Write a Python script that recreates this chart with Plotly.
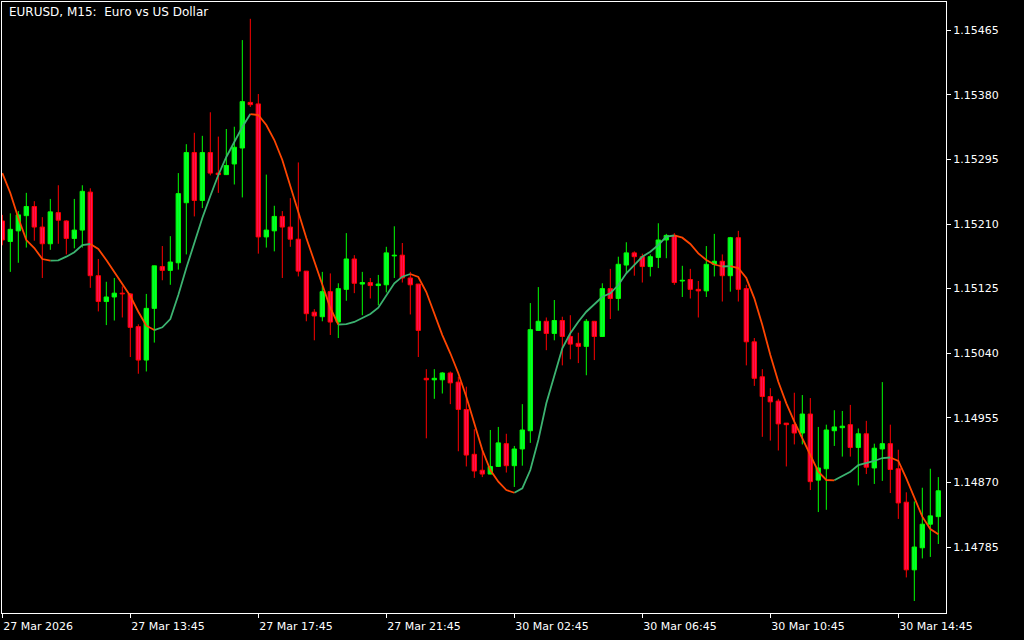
import plotly.graph_objects as go

# ---- data (EURUSD M15) ----
opens = [1.15214,1.15187,1.15201,1.15221,1.15233,1.15206,1.15184,1.15225,1.15214,1.15191,
         1.15202,1.15252,1.15142,1.15108,1.15114,1.15119,1.15118,1.15075,1.15031,1.15099,
         1.15154,1.15149,1.15159,1.15238,1.15304,1.15241,1.15304,1.15277,1.15275,1.15289,
         1.15310,1.15370,1.15368,1.15193,1.15201,1.15220,1.15206,1.15190,1.15148,1.15094,
         1.15088,1.15121,1.15081,1.15124,1.15164,1.15131,1.15133,1.15129,1.15130,1.15168,
         1.15169,1.15139,1.15131,1.15007,1.15005,1.15005,1.15014,1.15002,1.14966,1.14907,
         1.14886,1.14881,1.14891,1.14921,1.14892,1.14914,1.14938,1.15070,1.15082,1.15066,
         1.15083,1.15062,1.15053,1.15049,1.15082,1.15062,1.15125,1.15112,1.15156,1.15172,
         1.15167,1.15154,1.15166,1.15189,1.15195,1.15135,1.15137,1.15124,1.15122,1.15157,
         1.15161,1.15142,1.15192,1.15125,1.15055,1.15009,1.14983,1.14977,1.14948,1.14946,
         1.14935,1.14960,1.14873,1.14888,1.14938,1.14942,1.14946,1.14916,1.14934,1.14889,
         1.14914,1.14921,1.14888,1.14844,1.14755,1.14784,1.14815,1.14825]
highs = [1.15222,1.15224,1.15227,1.15251,1.15240,1.15219,1.15243,1.15261,1.15215,1.15243,
         1.15261,1.15257,1.15164,1.15134,1.15139,1.15128,1.15119,1.15078,1.15118,1.15155,
         1.15181,1.15194,1.15277,1.15315,1.15330,1.15326,1.15357,1.15325,1.15335,1.15338,
         1.15452,1.15480,1.15381,1.15275,1.15234,1.15227,1.15244,1.15291,1.15148,1.15098,
         1.15147,1.15145,1.15132,1.15198,1.15169,1.15147,1.15139,1.15143,1.15180,1.15207,
         1.15185,1.15147,1.15131,1.15019,1.15019,1.15015,1.15016,1.15009,1.14996,1.14940,
         1.14912,1.14939,1.14943,1.14934,1.14918,1.14973,1.15106,1.15127,1.15087,1.15110,
         1.15088,1.15090,1.15067,1.15085,1.15082,1.15132,1.15151,1.15167,1.15186,1.15174,
         1.15171,1.15170,1.15211,1.15197,1.15198,1.15155,1.15151,1.15135,1.15181,1.15197,
         1.15170,1.15193,1.15201,1.15130,1.15060,1.15019,1.14994,1.14980,1.14948,1.14988,
         1.14985,1.14981,1.14943,1.14946,1.14965,1.14964,1.14972,1.14941,1.14951,1.14921,
         1.15002,1.14946,1.14913,1.14857,1.14845,1.14863,1.14888,1.14877]
lows = [1.15182,1.15147,1.15159,1.15179,1.15188,1.15139,1.15176,1.15184,1.15170,1.15178,
        1.15179,1.15126,1.15095,1.15077,1.15083,1.15087,1.15035,1.15013,1.15016,1.15054,
        1.15136,1.15130,1.15150,1.15170,1.15220,1.15231,1.15274,1.15251,1.15275,1.15262,
        1.15245,1.15364,1.15171,1.15179,1.15174,1.15139,1.15180,1.15141,1.15082,1.15057,
        1.15082,1.15064,1.15060,1.15109,1.15119,1.15090,1.15112,1.15103,1.15120,1.15139,
        1.15133,1.15091,1.15035,1.14928,1.14980,1.14987,1.14973,1.14911,1.14891,1.14876,
        1.14877,1.14881,1.14891,1.14883,1.14864,1.14892,1.14922,1.15070,1.15044,1.15057,
        1.15024,1.15032,1.15027,1.15011,1.15031,1.15062,1.15085,1.15096,1.15145,1.15142,
        1.15133,1.15141,1.15152,1.15165,1.15130,1.15114,1.15112,1.15087,1.15114,1.15141,
        1.15108,1.15121,1.15108,1.15024,1.14997,1.14930,1.14925,1.14912,1.14891,1.14920,
        1.14920,1.14860,1.14831,1.14834,1.14918,1.14904,1.14904,1.14866,1.14881,1.14868,
        1.14872,1.14856,1.14822,1.14745,1.14714,1.14770,1.14772,1.14789]
closes = [1.15189,1.15203,1.15222,1.15233,1.15206,1.15184,1.15226,1.15215,1.15191,1.15202,
          1.15253,1.15142,1.15108,1.15114,1.15119,1.15118,1.15074,1.15031,1.15099,1.15155,
          1.15149,1.15160,1.15250,1.15304,1.15241,1.15304,1.15277,1.15275,1.15287,1.15311,
          1.15371,1.15367,1.15193,1.15202,1.15220,1.15206,1.15190,1.15148,1.15092,1.15089,
          1.15121,1.15081,1.15125,1.15164,1.15132,1.15133,1.15129,1.15131,1.15172,1.15169,
          1.15139,1.15130,1.15070,1.15005,1.15007,1.15014,1.15001,1.14966,1.14906,1.14885,
          1.14881,1.14891,1.14922,1.14892,1.14914,1.14939,1.15071,1.15082,1.15066,1.15083,
          1.15062,1.15052,1.15049,1.15082,1.15062,1.15125,1.15112,1.15157,1.15172,1.15167,
          1.15154,1.15167,1.15189,1.15195,1.15133,1.15136,1.15124,1.15122,1.15157,1.15161,
          1.15142,1.15192,1.15124,1.15055,1.15007,1.14983,1.14976,1.14947,1.14946,1.14935,
          1.14960,1.14871,1.14889,1.14939,1.14943,1.14944,1.14916,1.14934,1.14890,1.14915,
          1.14921,1.14887,1.14843,1.14755,1.14785,1.14815,1.14826,1.14859]
ma = [1.152771,1.152508,1.152179,1.151889,1.151784,1.151639,1.151617,1.151622,1.151670,1.151728,
      1.151824,1.151837,1.151771,1.151626,1.151472,1.151320,1.151153,1.150946,1.150762,1.150705,
      1.150741,1.150850,1.151166,1.151521,1.151850,1.152179,1.152468,1.152745,1.152982,1.153179,
      1.153376,1.153547,1.153534,1.153403,1.153205,1.152942,1.152613,1.152258,1.151916,1.151600,
      1.151297,1.150995,1.150778,1.150784,1.150811,1.150859,1.150916,1.150999,1.151166,1.151320,
      1.151407,1.151442,1.151403,1.151205,1.150925,1.150639,1.150399,1.150136,1.149828,1.149478,
      1.149126,1.148863,1.148709,1.148600,1.148564,1.148622,1.148863,1.149258,1.149741,1.150113,
      1.150464,1.150662,1.150814,1.150946,1.151043,1.151143,1.151188,1.151297,1.151451,1.151561,
      1.151670,1.151736,1.151824,1.151933,1.151949,1.151920,1.151837,1.151714,1.151626,1.151567,
      1.151541,1.151547,1.151521,1.151389,1.151122,1.150771,1.150376,1.150025,1.149741,1.149499,
      1.149280,1.149061,1.148841,1.148732,1.148728,1.148788,1.148841,1.148929,1.148951,1.148982,
      1.149021,1.149028,1.148982,1.148754,1.148491,1.148249,1.148087,1.148017]

tick_bars = [0, 16, 32, 48, 64, 80, 96, 112]
tick_labels = ["27 Mar 2026", "27 Mar 13:45", "27 Mar 17:45", "27 Mar 21:45",
               "30 Mar 02:45", "30 Mar 06:45", "30 Mar 10:45", "30 Mar 14:45"]
price_ticks = [1.14785, 1.14870, 1.14955, 1.15040, 1.15125, 1.15210, 1.15295, 1.15380, 1.15465]
title_text = "EURUSD, M15:\u00a0\u00a0Euro vs US Dollar"

# ---- styling ----
UP_LINE, UP_FILL = "#00FF00", "#00FF3C"
DN_LINE, DN_FILL = "#FF0000", "#FF1060"
MA_UP, MA_DN = "#3CB371", "#FF4500"

n = len(opens)
idx = list(range(n))

fig = go.Figure()

# wicks
for up in (True, False):
    wx, wy = [], []
    for i in idx:
        if (closes[i] >= opens[i]) == up:
            wx += [i, i, None]
            wy += [lows[i], highs[i], None]
    fig.add_trace(go.Scatter(x=wx, y=wy, mode="lines",
                             line=dict(color=UP_LINE if up else DN_LINE, width=1),
                             hoverinfo="skip", showlegend=False))

# bodies
for up in (True, False):
    bx, bb, bh = [], [], []
    for i in idx:
        if (closes[i] >= opens[i]) == up:
            lo = min(opens[i], closes[i])
            hi = max(opens[i], closes[i])
            bx.append(i)
            bb.append(lo)
            bh.append(max(hi - lo, 0.000005))
    fig.add_trace(go.Bar(x=bx, y=bh, base=bb, width=0.55,
                         marker=dict(color=UP_FILL if up else DN_FILL,
                                     line=dict(color=UP_LINE if up else DN_LINE, width=1)),
                         hoverinfo="skip", showlegend=False))

# moving average coloured by direction
runs = {True: ([], []), False: ([], [])}
cur = None
for i in range(n - 1):
    rising = ma[i + 1] >= ma[i]
    xs, ys = runs[rising]
    if rising != cur:
        if xs:
            xs.append(None); ys.append(None)
        xs += [i, i + 1]; ys += [ma[i], ma[i + 1]]
    else:
        xs.append(i + 1); ys.append(ma[i + 1])
    cur = rising
for rising in (True, False):
    xs, ys = runs[rising]
    fig.add_trace(go.Scatter(x=xs, y=ys, mode="lines",
                             line=dict(color=MA_UP if rising else MA_DN, width=1.8),
                             hoverinfo="skip", showlegend=False, connectgaps=False))

fig.add_annotation(text=title_text, xref="paper", yref="paper", x=0.005, y=0.984,
                   xanchor="left", yanchor="middle", showarrow=False,
                   font=dict(family="DejaVu Sans", size=12, color="white"))

fig.update_layout(
    width=1024, height=640,
    margin=dict(l=2, r=78, t=2, b=27),
    paper_bgcolor="black", plot_bgcolor="black",
    barmode="overlay",
    showlegend=False,
    hovermode=False,
    font=dict(family="DejaVu Sans", size=11, color="white"),
    xaxis=dict(range=[-0.04, 117.96], showgrid=False, zeroline=False,
               tickmode="array", tickvals=tick_bars, ticktext=tick_labels,
               ticks="outside", ticklen=4, tickcolor="white",
               ticklabelposition="outside right", ticklabelstandoff=3,
               showline=True, linecolor="white", linewidth=1, mirror=True,
               tickfont=dict(size=11, color="white")),
    yaxis=dict(range=[1.146982, 1.155021], side="right", showgrid=False, zeroline=False,
               tickmode="array", tickvals=price_ticks,
               ticktext=[f"{v:.5f}" for v in price_ticks],
               ticks="outside", ticklen=4, tickcolor="white",
               showline=True, linecolor="white", linewidth=1, mirror=True,
               tickfont=dict(size=11, color="white")),
)

fig.write_html("out.html", config={"displayModeBar": False},
               post_script="document.body.style.margin='0';document.body.style.background='black';")
